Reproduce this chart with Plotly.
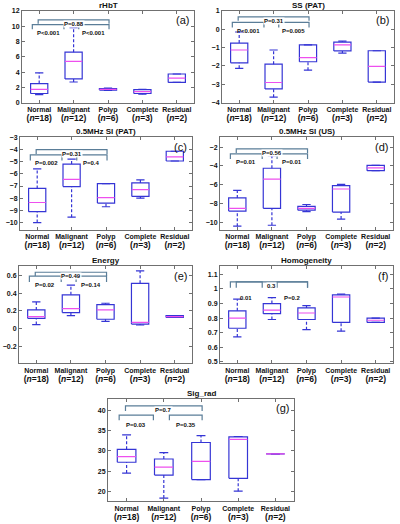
import plotly.graph_objects as go

categories = ["Normal", "Malignant", "Polyp", "Complete", "Residual"]
counts = [18, 12, 6, 3, 2]

# per category: [lower whisker, q1, median, q3, upper whisker]
rhbt_stats = [[1.05, 1.2, 1.75, 2.5, 3.9], [2.7, 3.1, 5.4, 6.6, 9.8], [1.6, 1.65, 1.75, 1.85, 1.9],
              [1.1, 1.2, 1.45, 1.7, 1.75], [2.65, 2.65, 3.2, 3.75, 3.75]]
ss_stats = [[-2.13, -1.83, -1.13, -0.75, -0.15], [-3.7, -3.25, -2.9, -1.9, -1.13], [-2.23, -1.77, -1.55, -0.85, -0.85],
            [-1.3, -1.18, -0.85, -0.7, -0.65], [-2.88, -2.88, -2.02, -1.17, -1.17]]
si_pat_stats = [[-10.0, -9.1, -8.35, -7.2, -5.6], [-9.55, -7.05, -6.45, -5.2, -4.8], [-8.7, -8.4, -7.95, -6.8, -6.8],
                [-8.0, -7.85, -7.3, -6.75, -6.5], [-4.95, -4.95, -4.62, -4.15, -4.15]]
si_us_stats = [[-10.4, -8.8, -8.5, -7.4, -6.6], [-10.3, -8.5, -5.4, -4.25, -2.9], [-8.85, -8.7, -8.5, -8.3, -8.1],
               [-9.65, -8.9, -6.45, -6.1, -5.95], [-4.5, -4.5, -4.2, -3.95, -3.95]]
energy_stats = [[0.045, 0.115, 0.135, 0.21, 0.30], [0.145, 0.18, 0.225, 0.38, 0.49], [0.08, 0.105, 0.21, 0.27, 0.285],
                [0.04, 0.05, 0.07, 0.51, 0.65], [0.125, 0.125, 0.135, 0.145, 0.145]]
homog_stats = [[0.67, 0.73, 0.80, 0.85, 0.93], [0.79, 0.83, 0.855, 0.90, 0.94], [0.72, 0.79, 0.835, 0.87, 0.885],
               [0.71, 0.77, 0.945, 0.96, 0.965], [0.77, 0.77, 0.785, 0.80, 0.80]]
sigrad_stats = [[24.5, 27.2, 28.6, 30.4, 34.0], [18.3, 24.0, 26.0, 28.0, 29.6], [22.9, 22.9, 27.4, 32.1, 33.8],
                [20.0, 23.2, 32.9, 33.5, 33.6], [29.3, 29.3, 29.3, 29.3, 29.3]]

titles = ["rHbT", "SS (PAT)", "0.5MHz SI (PAT)", "0.5MHz SI (US)", "Energy", "Homogeneity", "Sig_rad"]
letters = ["(a)", "(b)", "(c)", "(d)", "(e)", "(f)", "(g)"]
# p-values: [Normal vs Malignant, Malignant vs Polyp, Normal vs Polyp]
p_labels = [["P<0.001", "P<0.001", "P=0.88"], ["P<0.001", "P=0.005", "P=0.31"], ["P=0.002", "P=0.4", "P=0.31"],
            ["P=0.01", "P=0.01", "P=0.56"], ["P=0.02", "P=0.14", "P=0.49"], ["0.01", "P=0.2", "0.3"],
            ["P=0.03", "P=0.35", "P=0.7"]]
y_ranges = [[0, 12], [-4, 1], [-10.6, -3], [-10.8, -0.95], [-0.39, 0.7], [0.49, 1.155], [17.5, 43]]
y_ticks = [[0, 2, 4, 6, 8, 10, 12], [-4, -3, -2, -1, 0, 1], [-10, -9, -8, -7, -6, -5, -4, -3],
           [-10, -8, -6, -4, -2], [-0.2, 0, 0.2, 0.4, 0.6], [0.5, 0.6, 0.7, 0.8, 0.9, 1.0, 1.1],
           [20, 25, 30, 35, 40]]
all_stats = [rhbt_stats, ss_stats, si_pat_stats, si_us_stats, energy_stats, homog_stats, sigrad_stats]

# layout (pixels in a 400x524 page)
W, H = 400, 524
panel_px = [(22, 194, 7, 100), (222, 394, 7, 100), (20, 192, 135, 229), (220, 393, 135, 229),
            (19, 192, 266, 364), (220, 393, 266, 364), (108, 294, 400, 504)]
# bracket vertical layout (fraction from top): top line, top tick end, low line, low tick end, low label
bracket_y = [(0.097, 0.14, 0.15, 0.20, 0.19), (0.065, 0.108, 0.125, 0.18, 0.165),
             (0.135, 0.18, 0.19, 0.25, 0.225), (0.125, 0.17, 0.18, 0.235, 0.215),
             (0.06, 0.10, 0.10, 0.16, 0.14), (0.16, 0.22, 0.16, 0.22, 0.27),
             (0.07, 0.12, 0.16, 0.21, 0.205)]

BOX = "#3535d5"
MED = "#ee4fee"
BR = "#5a7d98"
FONT = "Liberation Sans, Arial, sans-serif"

fig = go.Figure()
shapes = []
annots = []
hw, cw = 0.25, 0.12

for k in range(7):
    xr = "x" if k == 0 else f"x{k+1}"
    yr = "y" if k == 0 else f"y{k+1}"
    stats = all_stats[k]
    bx, by, mx, my, wx, wy, cx, cy = [], [], [], [], [], [], [], []
    for i, (lo, q1, med, q3, hi) in enumerate(stats):
        bx += [i - hw, i + hw, i + hw, i - hw, i - hw, None]
        by += [q1, q1, q3, q3, q1, None]
        mx += [i - hw, i + hw, None]
        my += [med, med, None]
        wx += [i, i, None, i, i, None]
        wy += [q3, hi, None, lo, q1, None]
        cx += [i - cw, i + cw, None, i - cw, i + cw, None]
        cy += [hi, hi, None, lo, lo, None]
    common = dict(xaxis=xr, yaxis=yr, mode="lines", showlegend=False, hoverinfo="skip")
    fig.add_trace(go.Scatter(x=wx, y=wy, line=dict(color=BOX, width=1.2, dash="3px,2px"), **common))
    fig.add_trace(go.Scatter(x=cx, y=cy, line=dict(color=BOX, width=1.2), **common))
    fig.add_trace(go.Scatter(x=bx, y=by, line=dict(color=BOX, width=1.2), **common))
    fig.add_trace(go.Scatter(x=mx, y=my, line=dict(color=MED, width=1.2), **common))

    x0, x1, y0, y1 = panel_px[k]
    xd = [x0 / W, x1 / W]
    yd = [1 - y1 / H, 1 - y0 / H]
    ticktext = [f"<b>{c}</b><br><b><span style='font-size:8.5px'>(<i>n</i>={n})</span></b>"
                for c, n in zip(categories, counts)]
    ax = dict(domain=xd, range=[-0.5, 4.5], tickvals=list(range(5)), ticktext=ticktext,
              ticks="inside", ticklen=3, tickcolor="#707070", showline=True, linecolor="#707070",
              linewidth=1, mirror="ticks", showgrid=False, zeroline=False, anchor=yr,
              tickfont=dict(size=7, family=FONT, color="#111"))
    ay = dict(domain=yd, range=y_ranges[k], tickvals=y_ticks[k], ticks="inside", ticklen=3,
              tickcolor="#707070", showline=True, linecolor="#707070", linewidth=1, mirror="ticks",
              showgrid=False, zeroline=False, anchor=xr,
              tickfont=dict(size=7, family=FONT, color="#111", weight="bold"))
    fig.layout["xaxis" if k == 0 else f"xaxis{k+1}"] = ax
    fig.layout["yaxis" if k == 0 else f"yaxis{k+1}"] = ay

    # brackets
    t_line, t_end, l_line, l_end, l_lab = bracket_y[k]
    ydr = yr + " domain"
    def brk(xa, xb, ya, yb):
        shapes.append(dict(type="path", xref=xr, yref=ydr,
                           path=f"M {xa} {1-yb} L {xa} {1-ya} L {xb} {1-ya} L {xb} {1-yb}",
                           line=dict(color=BR, width=1.2)))
    brk(-0.2, 0.72, l_line, l_end)
    brk(1.15, 2.03, l_line, l_end)
    brk(-0.03, 2.03, t_line, t_end)
    pl = p_labels[k]
    lab_font = dict(size=6, family=FONT, color="#111", weight="bold")
    annots.append(dict(x=0.26, y=1 - l_lab, xref=xr, yref=ydr, text=pl[0], showarrow=False, font=lab_font))
    annots.append(dict(x=1.59, y=1 - l_lab, xref=xr, yref=ydr, text=pl[1], showarrow=False, font=lab_font))
    annots.append(dict(x=1.0, y=1 - t_line, xref=xr, yref=ydr, text=pl[2], showarrow=False, font=lab_font,
                       bgcolor="white", borderpad=0))
    # title and letter
    annots.append(dict(x=0.5, y=1, xref=xr + " domain", yref=ydr, yanchor="bottom", yshift=-1,
                       text=f"<b>{titles[k]}</b>", showarrow=False,
                       font=dict(size=8, family=FONT, color="#111")))
    annots.append(dict(x=0.985, y=0.985, xref=xr + " domain", yref=ydr, xanchor="right", yanchor="top",
                       text=letters[k], showarrow=False, font=dict(size=11, family=FONT, color="#111")))

fig.update_layout(width=W, height=H, margin=dict(l=0, r=0, t=0, b=0), paper_bgcolor="white",
                  plot_bgcolor="white", shapes=shapes, annotations=annots)
fig.write_html("out.html", config={"displayModeBar": False},
               post_script="document.body.style.margin='0';document.body.style.overflow='hidden';")
